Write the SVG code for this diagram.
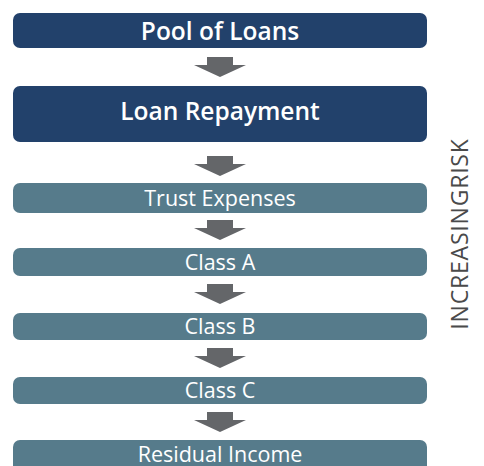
<svg xmlns="http://www.w3.org/2000/svg" width="484" height="466" viewBox="0 0 484 466">
<style>
.dark{fill:#22416b}
.teal{fill:#567b8b}
.t{font-family:"Open Sans","Noto Sans",sans-serif;fill:#ffffff;text-anchor:middle}
.b{font-weight:600;font-size:24.5px}
.r{font-size:21.5px;font-weight:400}
.arr{fill:#646669}
.side{font-family:"Open Sans","Noto Sans",sans-serif;font-size:23px;letter-spacing:0.8px;fill:#4a4a4a;font-weight:400;text-anchor:middle}
</style>
<defs>
<path id="arrow" d="M-13,0 H13 V8 H26 L0,20 L-26,8 H-13 Z"/>
</defs>
<rect width="484" height="466" fill="#ffffff"/>
<g id="connectors">
<use href="#arrow" class="arr" x="220" y="57"/>
<use href="#arrow" class="arr" x="220" y="156"/>
<use href="#arrow" class="arr" x="220" y="220"/>
<use href="#arrow" class="arr" x="220" y="284"/>
<use href="#arrow" class="arr" x="220" y="348"/>
<use href="#arrow" class="arr" x="220" y="412"/>
</g>
<g id="pool">
<rect class="dark" x="13" y="13" width="414" height="35" rx="7"/>
<text class="t b" x="220" y="39.5">Pool of Loans</text>
</g>
<g id="repayment">
<rect class="dark" x="13" y="86" width="414" height="56" rx="7"/>
<text class="t b" x="220" y="119.5">Loan Repayment</text>
</g>
<g id="trust">
<rect class="teal" x="13" y="183" width="414" height="30" rx="7"/>
<text class="t r" x="220" y="206">Trust Expenses</text>
</g>
<g id="classA">
<rect class="teal" x="13" y="248" width="414" height="28" rx="7"/>
<text class="t r" x="220" y="270">Class A</text>
</g>
<g id="classB">
<rect class="teal" x="13" y="313" width="414" height="27" rx="7"/>
<text class="t r" x="220" y="333.5">Class B</text>
</g>
<g id="classC">
<rect class="teal" x="13" y="377" width="414" height="27" rx="7"/>
<text class="t r" x="220" y="398">Class C</text>
</g>
<g id="residual">
<rect class="teal" x="13" y="440" width="414" height="34" rx="7"/>
<text class="t r" x="220" y="462">Residual Income</text>
</g>
<g id="risk">
<text class="side" transform="translate(468,234) rotate(-90)">INCREASINGRISK</text>
</g>
</svg>
